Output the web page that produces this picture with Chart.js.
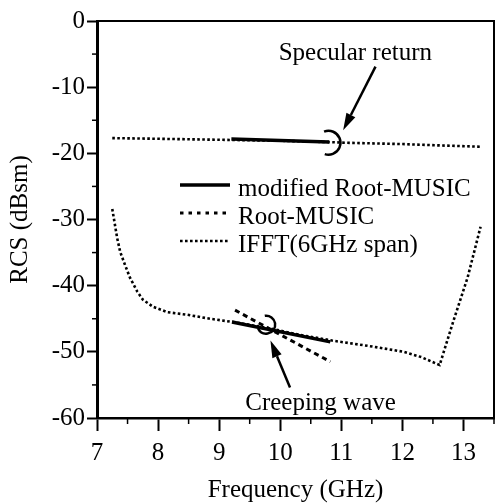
<!DOCTYPE html>
<html>
<head>
<meta charset="utf-8">
<script src="https://cdn.jsdelivr.net/npm/chart.js@4.4.1/dist/chart.umd.min.js"></script>
<style>
  html, body { margin: 0; padding: 0; background: #fff; }
</style>
</head>
<body>
<canvas id="grafikRcs" width="499" height="503"></canvas>
<script>
// IFFT (6GHz span) - specular level and creeping-wave level
const ifftUpperFreq = [7.25, 8.0, 9.0, 10.0, 10.8, 11.07, 12.0, 12.6, 13.28];
const ifftUpperRcs  = [-17.7, -17.8, -17.95, -18.1, -18.3, -18.4, -18.6, -18.8, -19.0];
const ifftLowerFreq = [7.25, 7.33, 7.38, 7.46, 7.54, 7.66, 7.75, 7.92, 8.15, 8.48, 8.85, 9.23, 9.8, 10.3, 10.85, 11.51, 12.02, 12.31, 12.61, 12.84, 13.07, 13.28];
const ifftLowerRcs  = [-28.4, -32.8, -34.9, -36.9, -38.8, -40.9, -42.1, -43.2, -44.0, -44.4, -45.0, -45.5, -46.4, -47.4, -48.3, -49.2, -50.0, -50.8, -52.0, -45.2, -38.7, -31.1];

// modified Root-MUSIC
const modUpperFreq = [9.2, 10.8];
const modUpperRcs  = [-17.85, -18.3];
const modLowerFreq = [9.21, 10.82];
const modLowerRcs  = [-45.5, -48.5];

// Root-MUSIC
const rootFreq = [9.26, 10.82];
const rootRcs  = [-43.7, -51.5];

const yTicks = [0, -10, -20, -30, -40, -50, -60];
const xTicks = [7, 8, 9, 10, 11, 12, 13];

function titik(fx, fy) {
    return fx.map((f, i) => ({ x: f, y: fy[i] }));
}
function gabung(a, b) {
    // null point breaks the line between the two pieces
    return a.concat([{ x: a[a.length - 1].x, y: null }], b);
}

const ctx = document.getElementById('grafikRcs').getContext('2d');

Chart.defaults.font.family = "'Liberation Serif', 'Times New Roman', serif";
Chart.defaults.font.size = 25;
Chart.defaults.color = '#000';

const catatan = {
    teks: [
        { text: 'Specular return', x: 11.23, y: -5.9 },
        { text: 'Creeping wave', x: 10.66, y: -58.8 }
    ],
    panah: [
        { from: [11.56, -6.9], to: [11.03, -16.5] },
        { from: [10.16, -55.4], to: [9.84, -48.3] }
    ],
    busur: [
        { c: [10.79, -18.4], r: 12, a0: -0.62 * Math.PI, a1: 0.6 * Math.PI },
        { c: [9.77, -45.9], r: 9, a0: -0.55 * Math.PI, a1: 0.85 * Math.PI }
    ]
};

const pluginBingkai = {
    id: 'bingkai',
    beforeDraw(chart) {
        const c = chart.ctx;
        c.save();
        c.fillStyle = '#fff';
        c.fillRect(0, 0, chart.width, chart.height);
        c.restore();
    },
    afterDraw(chart) {
        const c = chart.ctx;
        const a = chart.chartArea;
        const xs = chart.scales.x, ys = chart.scales.y;
        c.save();
        c.strokeStyle = '#000';
        c.lineWidth = 2;
        c.beginPath();
        c.moveTo(a.left, a.top);
        c.lineTo(a.right, a.top);
        c.lineTo(a.right, a.bottom);
        c.stroke();

        // minor ticks
        c.lineWidth = 1.5;
        for (let v = -55; v < 0; v += 10) {
            const py = ys.getPixelForValue(v);
            c.beginPath();
            c.moveTo(a.left, py);
            c.lineTo(a.left - 5, py);
            c.stroke();
        }
        for (let v = 7.5; v <= 13.5; v += 1) {
            const px = xs.getPixelForValue(v);
            c.beginPath();
            c.moveTo(px, a.bottom);
            c.lineTo(px, a.bottom + 6);
            c.stroke();
        }

        // annotations
        c.fillStyle = '#000';
        c.font = "25px 'Liberation Serif', serif";
        c.textAlign = 'center';
        c.textBaseline = 'alphabetic';
        catatan.teks.forEach(t => {
            c.fillText(t.text, xs.getPixelForValue(t.x), ys.getPixelForValue(t.y));
        });
        catatan.panah.forEach(p => {
            const x1 = xs.getPixelForValue(p.from[0]), y1 = ys.getPixelForValue(p.from[1]);
            const x2 = xs.getPixelForValue(p.to[0]), y2 = ys.getPixelForValue(p.to[1]);
            const ang = Math.atan2(y2 - y1, x2 - x1);
            const len = 17, w = 5;
            const bx = x2 - len * Math.cos(ang), by = y2 - len * Math.sin(ang);
            c.lineWidth = 2.5;
            c.beginPath();
            c.moveTo(x1, y1);
            c.lineTo(bx, by);
            c.stroke();
            c.beginPath();
            c.moveTo(x2, y2);
            c.lineTo(bx + w * Math.sin(ang), by - w * Math.cos(ang));
            c.lineTo(bx - w * Math.sin(ang), by + w * Math.cos(ang));
            c.closePath();
            c.fill();
        });
        c.lineWidth = 2.5;
        catatan.busur.forEach(b => {
            c.beginPath();
            c.arc(xs.getPixelForValue(b.c[0]), ys.getPixelForValue(b.c[1]), b.r, b.a0, b.a1);
            c.stroke();
        });

        // legend
        const lx = a.left + 83, ly = a.top + 164, gap = 28;
        c.textAlign = 'left';
        chart.data.datasets.forEach((ds, i) => {
            const yy = ly + i * gap;
            c.lineWidth = ds.borderWidth;
            c.setLineDash(ds.legendDash || ds.borderDash || []);
            c.beginPath();
            c.moveTo(lx, yy);
            c.lineTo(lx + 50, yy);
            c.stroke();
            c.setLineDash([]);
            c.fillText(ds.label, lx + 58, yy + 11);
        });
        c.restore();
    }
};

const grafikRcs = new Chart(ctx, {
    type: 'line',
    data: {
        datasets: [
            {
                label: 'modified Root-MUSIC',
                data: gabung(titik(modUpperFreq, modUpperRcs), titik(modLowerFreq, modLowerRcs)),
                borderColor: '#000',
                borderWidth: 3.5,
                pointRadius: 0,
                tension: 0,
                order: 0
            },
            {
                label: 'Root-MUSIC',
                data: titik(rootFreq, rootRcs),
                borderColor: '#000',
                borderWidth: 3,
                borderDash: [5, 4],
                legendDash: [3.5, 5],
                pointRadius: 0,
                tension: 0,
                order: 1
            },
            {
                label: 'IFFT(6GHz span)',
                data: gabung(titik(ifftUpperFreq, ifftUpperRcs), titik(ifftLowerFreq, ifftLowerRcs)),
                borderColor: '#000',
                borderWidth: 2.6,
                borderDash: [2.6, 2.4],
                pointRadius: 0,
                tension: 0,
                order: 2
            }
        ]
    },
    options: {
        responsive: false,
        animation: false,
        spanGaps: false,
        layout: { padding: { top: 21, right: 5, left: 0, bottom: 0 } },
        scales: {
            x: {
                type: 'linear',
                min: 7,
                max: 13.5,
                afterBuildTicks: (s) => { s.ticks = xTicks.map(v => ({ value: v })); },
                afterFit: (s) => { s.height = 85; },
                ticks: { padding: 7, maxRotation: 0, autoSkip: false, color: '#000' },
                grid: { drawOnChartArea: false, drawTicks: true, tickLength: 13, tickColor: '#000', tickWidth: 2 },
                border: { color: '#000', width: 2.5 },
                title: { display: true, text: 'Frequency (GHz)', color: '#000', font: { size: 25, lineHeight: 1 }, padding: 0 }
            },
            y: {
                min: -60,
                max: 0,
                afterBuildTicks: (s) => { s.ticks = yTicks.map(v => ({ value: v })); },
                afterFit: (s) => { s.width = 97; },
                ticks: { padding: 2, color: '#000' },
                grid: { drawOnChartArea: false, drawTicks: true, tickLength: 10, tickColor: '#000', tickWidth: 2 },
                border: { color: '#000', width: 3 },
                title: { display: true, text: 'RCS (dBsm)', color: '#000', font: { size: 25, lineHeight: 1 }, padding: { top: 8, bottom: 0 } }
            }
        },
        plugins: {
            legend: { display: false },
            tooltip: { enabled: false }
        }
    },
    plugins: [pluginBingkai]
});
</script>
</body>
</html>
